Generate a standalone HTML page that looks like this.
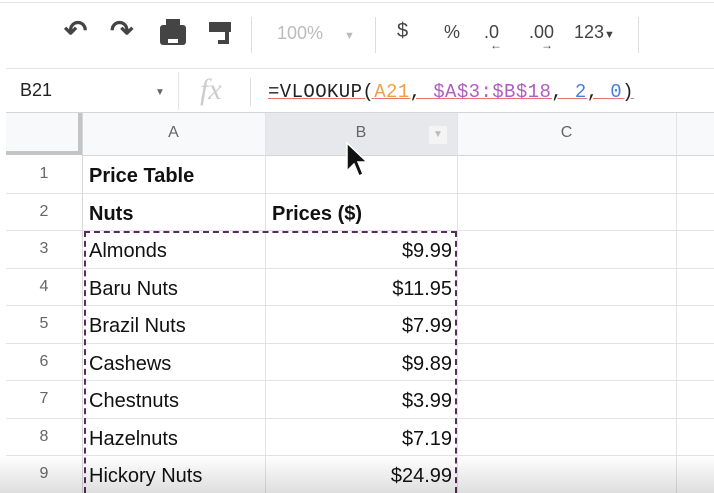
<!DOCTYPE html>
<html style="overflow:hidden"><head><meta charset="utf-8"><style>
*{margin:0;padding:0;box-sizing:border-box}
html,body{width:714px;height:493px;overflow:hidden}
body{background:#fff;font-family:"Liberation Sans",sans-serif;position:relative}
.a{position:absolute}
.tb{color:#444;font-size:20px;top:20px}
.hl{position:absolute;background:#e2e3e5;height:1px}
.vl{position:absolute;background:#e2e3e5;width:1px}
.rn{position:absolute;left:6px;width:76px;text-align:center;color:#666;font-size:16px}
.cell{position:absolute;font-size:20px;color:#111}
.r{text-align:right}
</style></head><body>
<div class="hl" style="left:0;top:2px;width:714px;background:#e6e4e8"></div>
<div class="a tb" style="left:64px;font-size:28px;top:14px;font-weight:bold">↶</div>
<div class="a tb" style="left:110px;font-size:28px;top:14px;font-weight:bold">↷</div>
<div class="a" style="left:160px;top:25px;width:26px;height:20px;background:#444;border-radius:3px"><div class="a" style="left:6px;top:-6px;width:14px;height:6px;background:#444"></div><div class="a" style="left:6px;top:12px;width:14px;height:8px;background:#fff;border:2px solid #444"></div></div>
<div class="a" style="left:209px;top:22px;width:22px;height:10px;background:#444"><div class="a" style="left:16px;top:10px;width:4px;height:10px;background:#444"></div><div class="a" style="left:9px;top:18px;width:11px;height:4px;background:#444"></div></div>
<div class="vl" style="left:251px;top:17px;height:36px;background:#ddd"></div>
<div class="a tb" style="left:277px;color:#bbb;font-size:18px;top:23px">100% <span style="margin-left:16px;font-size:11px">▼</span></div>
<div class="vl" style="left:375px;top:17px;height:36px;background:#ddd"></div>
<div class="a tb" style="left:397px">$</div>
<div class="a tb" style="left:444px;font-size:18px;top:22px">%</div>
<div class="a tb" style="left:484px;font-size:18px;top:22px">.0<span class="a" style="left:6px;top:16px;font-size:12px">←</span></div>
<div class="a tb" style="left:529px;font-size:18px;top:22px">.00<span class="a" style="left:12px;top:16px;font-size:12px">→</span></div>
<div class="a tb" style="left:574px;font-size:18px;top:22px">123<span style="font-size:11px">▼</span></div>
<div class="vl" style="left:638px;top:17px;height:36px;background:#ddd"></div>
<div class="hl" style="left:6px;top:68px;width:708px"></div>
<div class="a" style="left:20px;top:80px;font-size:18px;color:#222">B21</div>
<div class="a" style="left:155px;top:87px;font-size:10px;color:#666">▼</div>
<div class="vl" style="left:178px;top:72px;height:38px"></div>
<div class="a" style="left:200px;top:73px;font-size:30px;color:#ccc;font-family:'Liberation Serif',serif;font-style:italic">fx</div>
<div class="vl" style="left:250px;top:78px;height:28px;background:#ddd"></div>
<div class="a" style="left:268px;top:81px;font-size:19px;font-family:'Liberation Mono',monospace;letter-spacing:0.4px;color:#222;text-decoration:underline;text-decoration-color:#e57373;white-space:pre">=VLOOKUP(<span style="color:#f0a040">A21</span>, <span style="color:#b05cc0">$A$3:$B$18</span>, <span style="color:#4a7fd0">2</span>, <span style="color:#4a7fd0">0</span>)</div>
<div class="hl" style="left:6px;top:112px;width:708px;background:#d5d5d5"></div>
<div class="a" style="left:6px;top:113px;width:708px;height:42px;background:#f8f9fa"></div>
<div class="a" style="left:265px;top:113px;width:192px;height:42px;background:#e6e8eb"></div>
<div class="a" style="left:78px;top:113px;width:4px;height:42px;background:#c4c4c4"></div>
<div class="a" style="left:6px;top:151px;width:76px;height:4px;background:#c4c4c4"></div>
<div class="a" style="left:82px;top:124px;width:183px;text-align:center;color:#666;font-size:16px">A</div>
<div class="a" style="left:265px;top:124px;width:192px;text-align:center;color:#666;font-size:16px">B</div>
<div class="a" style="left:429px;top:126px;width:18px;height:18px;background:#f4f4f4;color:#bbb;font-size:10px;text-align:center;line-height:18px">▼</div>
<div class="a" style="left:457px;top:124px;width:219px;text-align:center;color:#666;font-size:16px">C</div>
<div class="hl" style="left:82px;top:155px;width:632px;background:#d5d5d5"></div>
<div class="vl" style="left:82px;top:113px;height:380px;background:#d8d8d8"></div>
<div class="vl" style="left:265px;top:113px;height:380px"></div>
<div class="vl" style="left:457px;top:113px;height:380px"></div>
<div class="vl" style="left:676px;top:113px;height:380px"></div>
<div id="rows"></div>
<div class="a" style="left:84px;top:231px;width:373px;height:262px;border:2px dashed #5a2a60;border-bottom:none"></div>
<svg class="a" style="left:342px;top:140px" width="30" height="42"><path d="M5 3 L5 31 L12 24 L17 36 L21 34 L16 22 L25 22 Z" fill="#111" stroke="#fff" stroke-width="1.5"/></svg>
<div class="a" style="left:0;top:455px;width:714px;height:38px;background:linear-gradient(rgba(0,0,0,0),rgba(0,0,0,0.13))"></div>
<script>
const labels=["Price Table","Nuts","Almonds","Baru Nuts","Brazil Nuts","Cashews","Chestnuts","Hazelnuts","Hickory Nuts"];
const prices=["","Prices ($)","$9.99","$11.95","$7.99","$9.89","$3.99","$7.19","$24.99"];
const R=document.getElementById('rows');
for(let i=0;i<9;i++){
 const top=155+i*37.5;
 const n=document.createElement('div');n.className='rn';n.style.top=(top+10)+'px';n.textContent=i+1;
 
 
 R.appendChild(n);
 const l=document.createElement('div');l.className='hl';l.style.left='6px';l.style.width='708px';l.style.top=(top+37.5)+'px';R.appendChild(l);
 const a=document.createElement('div');a.className='cell';a.style.left='89px';a.style.top=(top+10)+'px';a.textContent=labels[i];
 if(i<2)a.style.fontWeight='bold';
 
 
 R.appendChild(a);
 const b=document.createElement('div');b.className='cell';b.style.top=(top+10)+'px';b.textContent=prices[i];
 if(i<2){b.style.left='272px';b.style.fontWeight='bold';}else{b.classList.add('r');b.style.left='265px';b.style.width='187px';}
 
 
 R.appendChild(b);
}
</script>
</body></html>
